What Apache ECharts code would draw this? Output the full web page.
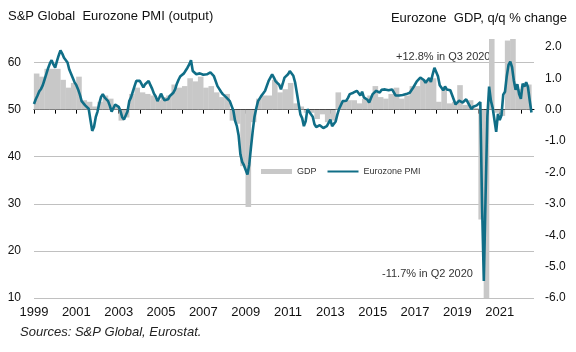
<!DOCTYPE html>
<html><head>
<meta charset="UTF-8">
<title>Eurozone PMI vs GDP</title>
<script src="https://cdn.jsdelivr.net/npm/echarts@6/dist/echarts.min.js"></script>
<style>
  html, body { margin: 0; padding: 0; background: #fff; }
  #chart { width: 576px; height: 352px; }
</style>
</head>
<body>
<div id="chart"></div>
<script>
  // monthly PMI output index, Jan 1999 .. Jul 2022
  const startYear = 1999;
  const pmiOutput = [
    51.2, 52.2, 53.0, 53.9, 54.4, 55.2, 56.4, 57.6, 58.8, 59.8, 60.5, 59.6, // 1999
    58.9, 60.3, 61.5, 62.6, 61.9, 61.0, 60.6, 60.0, 58.5, 57.6, 56.7, 55.8, // 2000
    55.2, 54.3, 53.2, 51.8, 51.6, 50.9, 50.7, 50.2, 47.8, 45.5, 46.3, 48.4, // 2001
    49.6, 51.3, 52.7, 53.3, 52.6, 52.9, 51.8, 50.8, 49.6, 50.3, 51.1, 51.0, // 2002
    50.6, 49.7, 48.4, 47.9, 47.9, 49.6, 51.8, 52.6, 53.8, 55.0, 56.1, 56.0, // 2003
    56.1, 55.4, 54.7, 55.4, 55.8, 56.1, 55.2, 54.4, 53.4, 52.8, 51.8, 52.5, // 2004
    53.4, 52.6, 52.0, 51.8, 52.2, 52.9, 53.3, 53.6, 54.3, 55.5, 56.4, 57.1, // 2005
    57.5, 57.7, 58.3, 58.9, 59.6, 60.5, 58.2, 57.9, 57.5, 57.6, 57.7, 57.5, // 2006
    57.4, 57.2, 57.5, 57.3, 57.9, 57.7, 57.1, 57.5, 55.0, 54.4, 53.8, 53.3, // 2007
    52.9, 52.6, 52.2, 51.8, 50.8, 49.8, 47.6, 46.5, 44.5, 40.5, 38.9, 38.2, // 2008
    38.4, 36.2, 38.3, 42.0, 45.5, 48.5, 50.3, 51.8, 52.4, 53.0, 53.5, 54.0, // 2009
    54.3, 56.1, 56.8, 57.5, 56.8, 56.0, 56.4, 55.3, 54.3, 55.5, 56.8, 56.6, // 2010
    57.5, 58.2, 57.9, 57.2, 55.8, 53.6, 51.3, 49.0, 48.2, 46.5, 47.5, 50.1, // 2011
    50.2, 49.0, 48.5, 46.9, 46.3, 46.5, 46.7, 46.4, 46.1, 45.8, 46.5, 47.2, // 2012
    47.9, 46.5, 46.5, 47.5, 49.0, 50.2, 51.0, 51.8, 52.2, 51.9, 52.5, 53.3, // 2013
    53.1, 53.6, 53.8, 54.0, 53.6, 53.0, 53.8, 52.6, 52.2, 52.1, 51.5, 51.7, // 2014
    53.3, 53.6, 54.0, 54.0, 53.6, 54.2, 53.9, 54.3, 53.9, 54.1, 54.4, 54.3, // 2015
    54.3, 53.0, 53.1, 53.0, 52.9, 53.1, 53.2, 53.3, 52.9, 53.6, 54.0, 54.7, // 2016
    54.4, 56.0, 56.4, 56.8, 56.8, 56.3, 55.7, 55.7, 56.7, 55.9, 57.5, 58.9, // 2017
    58.8, 57.1, 55.2, 55.1, 54.1, 54.9, 54.3, 54.5, 54.1, 53.1, 52.7, 51.1, // 2018
    51.0, 51.9, 51.6, 51.5, 51.8, 52.2, 51.5, 51.9, 50.1, 50.6, 50.6, 50.9, // 2019
    51.3, 51.6, 29.7, 13.6, 31.9, 48.5, 54.9, 51.9, 50.4, 50.0, 45.3, 49.1, // 2020
    47.8, 48.8, 53.2, 53.8, 57.1, 59.5, 60.2, 59.0, 56.2, 54.2, 55.4, 53.3, // 2021
    52.3, 55.5, 54.9, 55.8, 54.8, 52.0, 49.4                                // 2022
  ];

  // quarterly GDP, % change q/q, Q1 1999 .. Q2 2022
  const gdpQoQ = [
    1.15, 1.05, 1.3, 1.3,    // 1999
    1.3, 0.95, 0.7, 0.85,    // 2000
    1.05, 0.3, 0.25, 0.1,    // 2001
    0.25, 0.45, 0.35, 0.1,   // 2002
    -0.35, -0.25, 0.5, 0.7,  // 2003
    0.55, 0.5, 0.45, 0.3,    // 2004
    0.4, 0.45, 0.8, 0.7,     // 2005
    0.75, 1.0, 0.9, 1.05,    // 2006
    0.7, 0.75, 0.55, 0.4,    // 2007
    0.5, -0.35, -0.45, -1.8, // 2008
    -3.1, -0.4, 0.35, 0.45,  // 2009
    0.45, 0.95, 0.55, 0.65,  // 2010
    0.85, 0.2, 0.1, -0.1,    // 2011
    -0.1, -0.3, -0.15, -0.4, // 2012
    -0.35, 0.55, 0.25, 0.3,  // 2013
    0.3, 0.2, 0.35, 0.45,    // 2014
    0.75, 0.4, 0.35, 0.5,    // 2015
    0.7, 0.35, 0.45, 0.75,   // 2016
    0.75, 0.95, 0.95, 1.0,   // 2017
    0.25, 0.7, 0.2, 0.25,    // 2018
    0.78, 0.15, 0.3, 0.05,   // 2019
    -3.5, -11.7, 12.8, -0.1, // 2020
    -0.2, 2.2, 2.3, 0.65,    // 2021
    0.75, 0.8                // 2022
  ];

  const yearTicks = [];
  for (let y = 1999; y <= 2022; y++) yearTicks.push(y);
  const yearLabels = [1999, 2001, 2003, 2005, 2007, 2009, 2011, 2013, 2015, 2017, 2019, 2021];
  const pmiTicks = [10, 20, 30, 40, 50, 60];
  const gdpTicks = [-6, -5, -4, -3, -2, -1, 0, 1, 2];

  const font = 'Liberation Sans, Arial, sans-serif';
  const teal = '#106e87';

  const pmiData = pmiOutput.map((v, i) => [startYear + i / 12, v]);
  const gdpData = gdpQoQ.map((v, i) => [startYear + i / 4 + 0.125, v]);

  const chart = echarts.init(document.getElementById('chart'), null, { renderer: 'canvas' });

  chart.setOption({
    animation: false,
    textStyle: { fontFamily: font },
    title: [
      {
        text: 'S&P Global  Eurozone PMI (output)',
        left: 8, top: 10, padding: 0,
        textStyle: { fontSize: 13, fontWeight: 'normal', color: '#111', fontFamily: font }
      },
      {
        text: 'Eurozone  GDP, q/q % change',
        right: 9, top: 12, padding: 0,
        textStyle: { fontSize: 13, fontWeight: 'normal', color: '#111', fontFamily: font }
      }
    ],
    legend: {
      left: 261, top: 167, padding: 0,
      itemWidth: 31, itemHeight: 5, itemGap: 10,
      textStyle: { fontSize: 9, color: '#333', fontFamily: font },
      data: [
        { name: 'GDP', icon: 'rect' },
        {
          name: 'Eurozone PMI',
          itemStyle: { color: 'rgba(0,0,0,0)', borderWidth: 0 },
          lineStyle: { color: teal, width: 2 }
        }
      ]
    },
    grid: { left: 34, right: 42, top: 39, bottom: 54 },
    xAxis: {
      type: 'value',
      min: 1999, max: 2022.62, interval: 1,
      axisLine: { lineStyle: { color: '#000', width: 1 } },
      axisTick: { show: true, length: 4, inside: false, customValues: yearTicks, lineStyle: { color: '#000' } },
      axisLabel: {
        customValues: yearLabels, margin: 8, fontSize: 13, color: '#111', fontFamily: font,
        formatter: v => String(Math.round(v))
      },
      splitLine: { show: false }
    },
    yAxis: [
      {
        type: 'value', min: 10, max: 65, interval: 10,
        axisLine: { show: false }, axisTick: { show: false },
        axisLabel: { customValues: pmiTicks, margin: 13, fontSize: 12, color: '#111', fontFamily: font },
        splitLine: { show: true, showMaxLine: false, lineStyle: { color: '#c0c0c0', width: 1 } }
      },
      {
        type: 'value', min: -6, max: 2.25, interval: 1,
        axisLine: { show: false }, axisTick: { show: false },
        axisLabel: {
          customValues: gdpTicks, margin: 11, fontSize: 12, color: '#111', fontFamily: font,
          formatter: v => v.toFixed(1)
        },
        splitLine: { show: false }
      }
    ],
    series: [
      {
        name: 'GDP', type: 'bar', yAxisIndex: 1,
        data: gdpData, barWidth: 5.6, clip: true,
        itemStyle: { color: '#c8c8c8' }
      },
      {
        name: 'Eurozone PMI', type: 'line', yAxisIndex: 0,
        data: pmiData, symbol: 'none', clip: true,
        lineStyle: { color: teal, width: 2.6 },
        itemStyle: { color: teal }
      }
    ],
    graphic: [
      {
        type: 'text', left: 396, top: 51,
        style: { text: '+12.8% in Q3 2020', fill: '#333', font: '11px ' + font }
      },
      {
        type: 'text', left: 382, top: 268,
        style: { text: '-11.7% in Q2 2020', fill: '#333', font: '11px ' + font }
      },
      {
        type: 'text', left: 20, top: 326,
        style: { text: 'Sources: S&P Global, Eurostat.', fill: '#222', font: 'italic 13px ' + font }
      }
    ]
  });
</script>
</body></html>
